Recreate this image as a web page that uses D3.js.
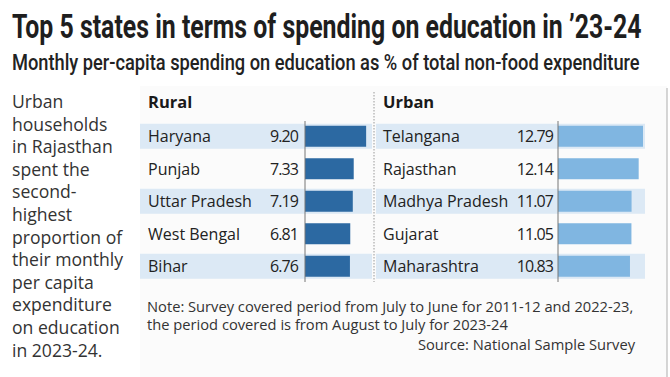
<!DOCTYPE html>
<html>
<head>
<meta charset="utf-8">
<script src="https://cdn.jsdelivr.net/npm/d3@7"></script>
<style>
  body { margin: 0; background: #fff; }
  svg text { font-family: "Open Sans", "Noto Sans", sans-serif; fill: #222; }
</style>
</head>
<body>
<div id="chart"></div>
<script>
// data
var ruralStates = ["Haryana", "Punjab", "Uttar Pradesh", "West Bengal", "Bihar"];
var ruralValues = [9.20, 7.33, 7.19, 6.81, 6.76];
var urbanStates = ["Telangana", "Rajasthan", "Madhya Pradesh", "Gujarat", "Maharashtra"];
var urbanValues = [12.79, 12.14, 11.07, 11.05, 10.83];

var title = "Top 5 states in terms of spending on education in \u201923-24";
var subtitle = "Monthly per-capita spending on education as % of total non-food expenditure";
var sideNote = ["Urban", "households", "in Rajasthan", "spent the", "second-", "highest",
  "proportion of", "their monthly", "per capita", "expenditure", "on education", "in 2023-24."];
var noteLines = ["Note: Survey covered period from July to June for 2011-12 and 2022-23,",
  "the period covered is from August to July for 2023-24"];
var source = "Source: National Sample Survey";

var width = 670, height = 377;

var svg = d3.select('#chart').append('svg')
    .attr('width', width)
    .attr('height', height);

// panel background
svg.append('rect')
    .attr('x', 140).attr('y', 86)
    .attr('width', 527).attr('height', 291)
    .attr('fill', '#fbfbfb');
svg.append('line')
    .attr('x1', 667).attr('x2', 667)
    .attr('y1', 88).attr('y2', 377)
    .attr('stroke', '#bbb').attr('stroke-width', 1.2);

// condensed headline: squeeze the text horizontally to the reference width
function squeezed(txt, x0, y0, w, style) {
    var t = svg.append('text')
        .attr('x', 0).attr('y', 0)
        .attr('style', style)
        .text(txt);
    var len = t.node().getComputedTextLength();
    t.attr('transform', 'translate(' + x0 + ',' + y0 + ') scale(' + (w / len) + ',1)');
    return t;
}

squeezed(title, 12, 38, 630,
    'font-family: Roboto, sans-serif; font-size: 34px; font-weight: 700; fill:#1e1e1e;');
squeezed(subtitle, 12, 70, 628,
    'font-family: Roboto, sans-serif; font-size: 22px; font-weight: 500; fill:#222;');

// side text
svg.append('g').selectAll('text')
    .data(sideNote)
    .enter()
    .append('text')
    .attr('x', 12)
    .attr('y', function (d, i) { return 108 + i * 22.6; })
    .attr('style', 'font-size: 17.6px; fill:#333;')
    .text(function (d) { return d; });

var y = d3.scaleBand()
    .domain(d3.range(5))
    .range([120, 282.5]);

// same px-per-unit for both panels
var x = d3.scaleLinear().domain([0, 12.79]).range([0, 85]);

function drawPanel(opts) {
    var g = svg.append('g');

    g.append('text')
        .attr('x', opts.labelX).attr('y', 108)
        .attr('style', 'font-size: 16.5px; font-weight: 700; fill:#1a1a1a;')
        .text(opts.name);

    var rows = g.selectAll('g.row')
        .data(opts.states)
        .enter()
        .append('g')
        .attr('class', 'row')
        .attr('transform', function (d, i) { return 'translate(0,' + y(i) + ')'; });

    rows.append('rect')
        .attr('x', opts.bandX0)
        .attr('y', (y.bandwidth() - 25) / 2)
        .attr('width', opts.bandX1 - opts.bandX0)
        .attr('height', 25)
        .attr('fill', function (d, i) { return i % 2 === 0 ? '#dce9f5' : 'none'; });

    rows.append('text')
        .attr('x', opts.labelX)
        .attr('y', y.bandwidth() / 2 + 6)
        .attr('style', 'font-size: 16px;')
        .text(function (d) { return d; });

    rows.append('text')
        .attr('x', opts.valueX)
        .attr('y', y.bandwidth() / 2 + 6)
        .attr('text-anchor', 'end')
        .attr('style', 'font-size: 16px; letter-spacing: -0.9px;')
        .text(function (d, i) { return opts.values[i].toFixed(2); });

    rows.append('rect')
        .attr('x', opts.axisX)
        .attr('y', (y.bandwidth() - 21) / 2)
        .attr('width', function (d, i) { return x(opts.values[i]); })
        .attr('height', 21)
        .attr('fill', opts.color);

    g.append('line')
        .attr('x1', opts.axisX).attr('x2', opts.axisX)
        .attr('y1', 121).attr('y2', 282)
        .attr('stroke', '#777').attr('stroke-width', 1);
}

drawPanel({ name: 'Rural', states: ruralStates, values: ruralValues,
    labelX: 148, valueX: 298, axisX: 305, bandX0: 140, bandX1: 372, color: '#2c69a2' });
drawPanel({ name: 'Urban', states: urbanStates, values: urbanValues,
    labelX: 383, valueX: 553, axisX: 558, bandX0: 376, bandX1: 645, color: '#80b6e1' });

// dotted divider
svg.append('line')
    .attr('x1', 374).attr('x2', 374)
    .attr('y1', 92).attr('y2', 282)
    .attr('stroke', '#999').attr('stroke-width', 1)
    .attr('stroke-dasharray', '1.5,1.5');

// note + source
svg.append('g').selectAll('text')
    .data(noteLines)
    .enter()
    .append('text')
    .attr('x', 147)
    .attr('y', function (d, i) { return 312 + i * 18; })
    .attr('style', 'font-size: 14.7px; fill:#333;')
    .text(function (d) { return d; });

svg.append('text')
    .attr('x', 635).attr('y', 350)
    .attr('text-anchor', 'end')
    .attr('style', 'font-size: 14.7px; fill:#333;')
    .text(source);
</script>
</body>
</html>
